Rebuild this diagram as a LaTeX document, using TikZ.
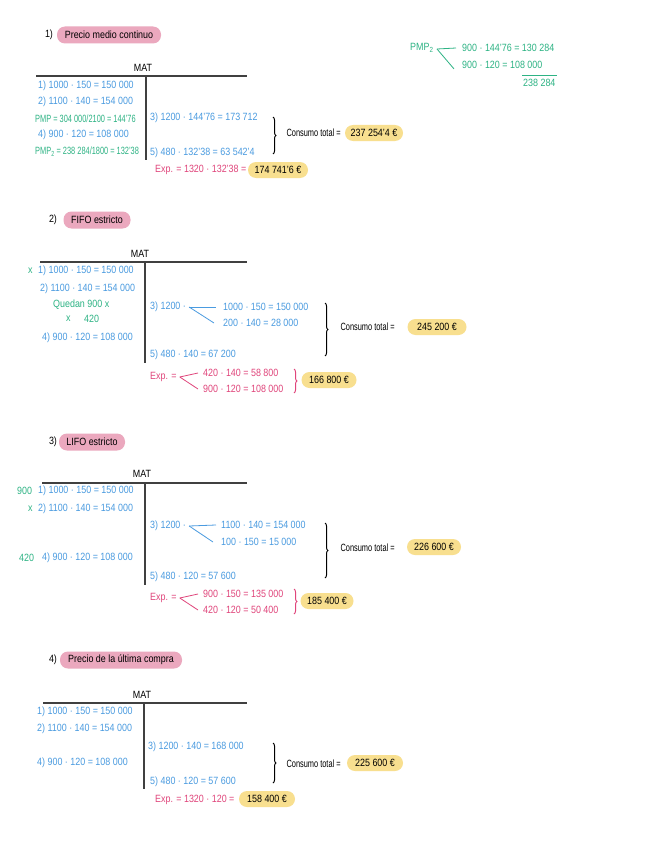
\documentclass[tikz,border=0pt]{standalone}
\usepackage{fontspec}
\setmainfont{Liberation Sans}[FakeStretch=0.85]
\usetikzlibrary{decorations.pathreplacing}

\definecolor{azul}{HTML}{4A9BE0}
\definecolor{verde}{HTML}{2DB384}
\definecolor{rosa}{HTML}{E0457B}
\definecolor{rosaclaro}{HTML}{EBA8BE}
\definecolor{amarillo}{HTML}{F8DF8F}

\newcommand{\angosto}[1]{\scalebox{0.83}[1]{#1}}

\begin{document}
\begin{tikzpicture}[x=1pt, y=-1pt, font=\fontsize{10.5}{12}\selectfont,
    ent/.style={anchor=west, text=azul, inner sep=0pt},
    nota/.style={anchor=west, text=verde, inner sep=0pt},
    gasto/.style={anchor=west, text=rosa, inner sep=0pt},
    titulo/.style={fill=rosaclaro, rounded corners=8pt, minimum height=17pt, inner xsep=4pt},
    total/.style={fill=amarillo, rounded corners=8pt, minimum height=16pt, inner xsep=5pt},
    cuenta/.style={draw=black!75, line width=1.3pt},
    llave/.style={decorate, decoration={brace, amplitude=3pt}, line width=1pt},
    rama/.style={line width=0.8pt}]
    \fill[white] (0,0) rectangle (646,848);
    \useasboundingbox (0,0) rectangle (646,848);

    % 1) Precio medio continuo
    \node (n1) at (49,35) {1)};
    \node[titulo, minimum width=104pt] (tit1) at (109,35) {Precio medio continuo};
    \node (mat1) at (143,68) {MAT};
    \draw[cuenta] (36,76) -- (247,76);
    \draw[cuenta] (146,76) -- (146,160);
    \node[ent] (a1) at (38,86) {1) 1000 · 150 = 150 000};
    \node[ent] (a2) at (38,102) {2) 1100 · 140 = 154 000};
    \node[nota] (pmp1) at (35,119) {\angosto{PMP = 304 000/2100 = 144'76}};
    \node[ent] (a4) at (38,135) {4) 900 · 120 = 108 000};
    \node[nota] (pmp2) at (35,152) {\angosto{PMP\textsubscript{2} = 238 284/1800 = 132'38}};
    \node[ent] (b3) at (150,118) {3) 1200 · 144'76 = 173 712};
    \node[ent] (b5) at (150,153) {5) 480 · 132'38 = 63 542'4};
    \draw[llave] (273,117) -- (273,154);
    \node[anchor=west] (ct1) at (283,133) {\angosto{Consumo total =}};
    \node[total, minimum width=58pt] (tot1) at (374,133) {237 254'4 €};
    \node[gasto] (e1) at (155,170) {Exp. = 1320 · 132'38 =};
    \node[total, minimum width=60pt] (ex1) at (278,170) {174 741'6 €};

    % nota PMP2
    \node[nota] (pmpb) at (410,48) {PMP\textsubscript{2}};
    \coordinate (rz) at (437,49);
    \node[nota] (c900a) at (462,48) {900 · 144'76 = 130 284};
    \node[nota] (c900b) at (462,65) {900 · 120 = 108 000};
    \draw[verde, rama] (rz) -- ([xshift=-6pt]c900a.west);
    \draw[verde, rama] (rz) -- ([xshift=-8pt]c900b.south west);
    \draw[verde, rama] (522,75) -- (557,75);
    \node[nota] (suma) at (523,83) {238 284};

    % 2) FIFO estricto
    \node (n2) at (53,220) {2)};
    \node[titulo, minimum width=67pt] (tit2) at (97,220) {FIFO estricto};
    \node (mat2) at (140,254) {MAT};
    \draw[cuenta] (40,262) -- (247,262);
    \draw[cuenta] (145,262) -- (145,363);
    \node[nota] (x21) at (28,271) {x};
    \node[ent] (f1) at (38,271) {1) 1000 · 150 = 150 000};
    \node[ent] (f2) at (40,289) {2) 1100 · 140 = 154 000};
    \node[nota] (qd) at (53,305) {Quedan 900 x};
    \node[nota] (x22) at (66,319) {x};
    \node[nota] (q420) at (84,319) {420};
    \node[ent] (f4) at (42,338) {4) 900 · 120 = 108 000};
    \node[ent] (g3) at (150,307) {3) 1200 ·};
    \node[ent] (g3a) at (223,307) {1000 · 150 = 150 000};
    \node[ent] (g3b) at (223,323) {200 · 140 = 28 000};
    \draw[azul, rama] ([xshift=3pt]g3.east) -- ([xshift=-7pt]g3a.west);
    \draw[azul, rama] ([xshift=3pt]g3.east) -- ([xshift=-9pt]g3b.west);
    \node[ent] (g5) at (150,355) {5) 480 · 140 = 67 200};
    \draw[llave] (325,303) -- (325,356);
    \node[anchor=west] (ct2) at (337,327) {\angosto{Consumo total =}};
    \node[total, minimum width=59pt] (tot2) at (437,327) {245 200 €};
    \node[gasto] (e2) at (150,377) {Exp. =};
    \node[gasto] (e2a) at (203,373) {420 · 140 = 58 800};
    \node[gasto] (e2b) at (203,389) {900 · 120 = 108 000};
    \draw[rosa, rama] ([xshift=3pt]e2.east) -- ([xshift=-5pt]e2a.west);
    \draw[rosa, rama] ([xshift=3pt]e2.east) -- ([xshift=-5pt]e2b.west);
    \draw[rosa, llave] (294,369) -- (294,393);
    \node[total, minimum width=55pt] (ex2) at (329,380) {166 800 €};

    % 3) LIFO estricto
    \node (n3) at (53,442) {3)};
    \node[titulo, minimum width=66pt] (tit3) at (92,442) {LIFO estricto};
    \node (mat3) at (142,474) {MAT};
    \draw[cuenta] (42,483) -- (247,483);
    \draw[cuenta] (145,483) -- (145,585);
    \node[nota] (v900) at (17,491) {900};
    \node[ent] (l1) at (38,491) {1) 1000 · 150 = 150 000};
    \node[nota] (x3) at (28,509) {x};
    \node[ent] (l2) at (38,509) {2) 1100 · 140 = 154 000};
    \node[nota] (v420) at (19,558) {420};
    \node[ent] (l4) at (42,558) {4) 900 · 120 = 108 000};
    \node[ent] (k3) at (150,526) {3) 1200 ·};
    \node[ent] (k3a) at (221,525) {1100 · 140 = 154 000};
    \node[ent] (k3b) at (221,542) {100 · 150 = 15 000};
    \draw[azul, rama] ([xshift=3pt]k3.east) -- ([xshift=-5pt]k3a.west);
    \draw[azul, rama] ([xshift=3pt]k3.east) -- ([xshift=-8pt]k3b.west);
    \node[ent] (k5) at (150,577) {5) 480 · 120 = 57 600};
    \draw[llave] (325,523) -- (325,578);
    \node[anchor=west] (ct3) at (337,548) {\angosto{Consumo total =}};
    \node[total, minimum width=54pt] (tot3) at (434,547) {226 600 €};
    \node[gasto] (e3) at (150,598) {Exp. =};
    \node[gasto] (e3a) at (203,594) {900 · 150 = 135 000};
    \node[gasto] (e3b) at (203,610) {420 · 120 = 50 400};
    \draw[rosa, rama] ([xshift=3pt]e3.east) -- ([xshift=-5pt]e3a.west);
    \draw[rosa, rama] ([xshift=3pt]e3.east) -- ([xshift=-5pt]e3b.west);
    \draw[rosa, llave] (294,589) -- (294,614);
    \node[total, minimum width=53pt] (ex3) at (327,601) {185 400 €};

    % 4) Precio de la ultima compra
    \node (n4) at (53,660) {4)};
    \node[titulo, minimum width=122pt] (tit4) at (121,660) {Precio de la última compra};
    \node (mat4) at (142,695) {MAT};
    \draw[cuenta] (43,703) -- (247,703);
    \draw[cuenta] (144,703) -- (144,789);
    \node[ent] (u1) at (37,712) {1) 1000 · 150 = 150 000};
    \node[ent] (u2) at (37,729) {2) 1100 · 140 = 154 000};
    \node[ent] (u4) at (37,763) {4) 900 · 120 = 108 000};
    \node[ent] (w3) at (148,747) {3) 1200 · 140 = 168 000};
    \node[ent] (w5) at (150,782) {5) 480 · 120 = 57 600};
    \draw[llave] (273,743) -- (273,783);
    \node[anchor=west] (ct4) at (283,764) {\angosto{Consumo total =}};
    \node[total, minimum width=56pt] (tot4) at (375,763) {225 600 €};
    \node[gasto] (e4) at (155,800) {Exp. = 1320 · 120 =};
    \node[total, minimum width=56pt] (ex4) at (267,799) {158 400 €};
\end{tikzpicture}
\end{document}
